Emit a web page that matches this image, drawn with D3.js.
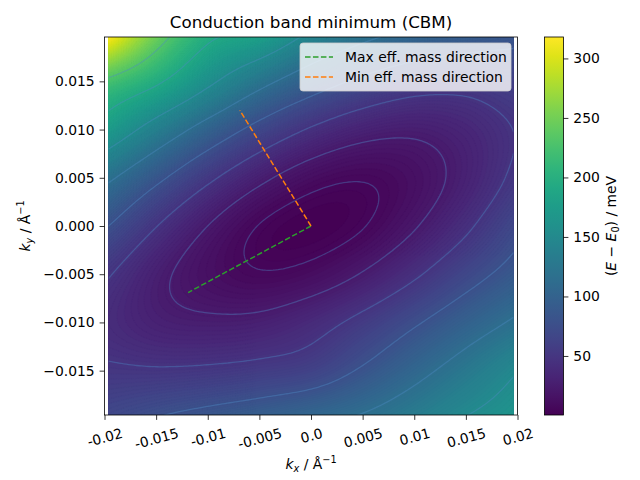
<!DOCTYPE html>
<html>
<head>
<meta charset="utf-8">
<script src="https://cdn.jsdelivr.net/npm/d3@7"></script>
<style>
  body { margin: 0; background: #fff; }
  svg { display: block; font-family: "DejaVu Sans", sans-serif; }
</style>
</head>
<body>
<svg id="chart" width="640" height="480"></svg>
<script>
// ---------------- data ----------------
const kxGrid = [-0.0196, -0.0147, -0.0098, -0.0049, 0, 0.0049, 0.0098, 0.0147, 0.0196];
const kyGrid = [0.0196, 0.0147, 0.0098, 0.0049, 0, -0.0049, -0.0098, -0.0147, -0.0196]; // rows, top to bottom
// E - E0 in meV at (kxGrid[col], kyGrid[row])
const energyGrid = [
  [318, 244, 196, 179, 145, 121, 104, 93, 85],
  [221, 191, 154, 120, 92, 71, 58, 55, 61],
  [172, 133, 97.5, 67, 44, 30, 26, 33, 48],
  [118, 83, 51.5, 27, 11.6, 6.8, 13.3, 29, 52],
  [79, 47, 21.9, 5.3, 0.4, 5.1, 20.4, 42.3, 69],
  [50, 27.3, 13.3, 6.8, 10.6, 23.3, 42.9, 66, 88],
  [40, 28.9, 25.6, 27.3, 37.1, 53.4, 73.6, 95, 116],
  [50, 48.5, 50, 54, 60.8, 80, 102, 124.6, 147.5],
  [68.5, 78, 86, 94, 104, 115, 131.7, 150, 164]
];
const lineLevels = [6, 22.8, 48, 79, 114, 151.7, 191.2, 232];
const colorRange = [0.4, 318];
const colorbarTicks = [50, 100, 150, 200, 250, 300];
const xTickValues = [-0.02, -0.015, -0.01, -0.005, 0, 0.005, 0.01, 0.015, 0.02];
const xTickLabels = ["-0.02", "-0.015", "-0.01", "-0.005", "0.0", "0.005", "0.01", "0.015", "0.02"];
const yTickValues = [-0.015, -0.01, -0.005, 0, 0.005, 0.01, 0.015];
const maxMassDir = [[0, 0], [-0.0119, -0.0069]];
const minMassDir = [[0, 0], [-0.0069, 0.0120]];
const legendItems = [
  {label: "Max eff. mass direction", color: "#2ca02c"},
  {label: "Min eff. mass direction", color: "#ff7f0e"}
];

// ---------------- layout ----------------
const svg = d3.select("#chart");
const pL = 104.5, pR = 517.5, pT = 37, pB = 415;
const x = d3.scaleLinear().domain([-0.02, 0.02]).range([pL, pR]);
const y = d3.scaleLinear().domain([-0.0196, 0.0196]).range([pB, pT]);
const color = d3.scaleSequential(d3.interpolateViridis).domain(colorRange);

// smooth resampling of the grid for display (Catmull-Rom)
const nR = kyGrid.length, nC = kxGrid.length;
function gv(r, c) {
  if (c < 0) return 2 * gv(r, 0) - gv(r, 1);
  if (c > nC - 1) return 2 * gv(r, nC - 1) - gv(r, nC - 2);
  if (r < 0) return 2 * gv(0, c) - gv(1, c);
  if (r > nR - 1) return 2 * gv(nR - 1, c) - gv(nR - 2, c);
  return energyGrid[r][c];
}
function cr(p0, p1, p2, p3, t) {
  return 0.5 * (2 * p1 + (-p0 + p2) * t + (2 * p0 - 5 * p1 + 4 * p2 - p3) * t * t + (-p0 + 3 * p1 - 3 * p2 + p3) * t * t * t);
}
function sample(gr, gc) {
  const r = Math.min(Math.floor(gr), nR - 2), c = Math.min(Math.floor(gc), nC - 2);
  const tr = gr - r, tc = gc - c;
  const rows = [];
  for (let dr = -1; dr <= 2; dr++) {
    rows.push(cr(gv(r + dr, c - 1), gv(r + dr, c), gv(r + dr, c + 1), gv(r + dr, c + 2), tc));
  }
  return cr(rows[0], rows[1], rows[2], rows[3], tr);
}
const N = 161;
const fine = new Array(N * N);
for (let j = 0; j < N; j++) {
  for (let i = 0; i < N; i++) {
    fine[j * N + i] = sample(j * (nR - 1) / (N - 1), i * (nC - 1) / (N - 1));
  }
}
const kx0 = kxGrid[0], kx1 = kxGrid[nC - 1], ky0 = kyGrid[0], ky1 = kyGrid[nR - 1];
const dkx = (kx1 - kx0) / (N - 1), dky = (ky1 - ky0) / (N - 1);
const proj = d3.geoTransform({
  point: function (cx, cy) {
    this.stream.point(x(kx0 + (cx - 0.5) * dkx), y(ky0 + (cy - 0.5) * dky));
  }
});
const path = d3.geoPath(proj);

const defs = svg.append("defs");
defs.append("clipPath").attr("id", "dataclip")
  .append("rect")
  .attr("x", x(kx0)).attr("y", y(ky0))
  .attr("width", x(kx1) - x(kx0)).attr("height", y(ky1) - y(ky0));

// filled contours
const step = 2;
const fillThresholds = d3.range(0, colorRange[1], step);
const fills = d3.contours().size([N, N]).thresholds(fillThresholds)(fine);
const bandColor = d => color(Math.min(Math.max(d.value + step / 2, colorRange[0]), colorRange[1]));
svg.append("g").attr("clip-path", "url(#dataclip)")
  .selectAll("path").data(fills).join("path")
  .attr("d", path)
  .attr("fill", bandColor)
  .attr("stroke", bandColor)
  .attr("stroke-width", 0.3);

// contour lines
const lines = d3.contours().size([N, N]).thresholds(lineLevels)(fine);
svg.append("g").attr("clip-path", "url(#dataclip)")
  .selectAll("path").data(lines).join("path")
  .attr("d", path)
  .attr("fill", "none")
  .attr("stroke", "#4f8cc6")
  .attr("stroke-opacity", 0.38)
  .attr("stroke-width", 1.3);

// direction lines
const lineGen = d3.line().x(d => x(d[0])).y(d => y(d[1]));
[maxMassDir, minMassDir].forEach((dir, i) => {
  svg.append("path").datum(dir).attr("d", lineGen)
    .attr("fill", "none").attr("stroke", legendItems[i].color)
    .attr("stroke-width", 1.5).attr("stroke-dasharray", "5.55,2.4");
});

// frame
svg.append("rect").attr("x", pL).attr("y", pT)
  .attr("width", pR - pL).attr("height", pB - pT)
  .attr("fill", "none").attr("stroke", "#000").attr("stroke-width", 0.8);

const fs = 13.9;
// x axis
const xAxis = svg.append("g").attr("transform", `translate(0,${pB})`)
  .call(d3.axisBottom(x).tickValues(xTickValues).tickSize(4.9).tickPadding(4.9)
    .tickFormat((d, i) => xTickLabels[i]));
xAxis.select(".domain").remove();
xAxis.selectAll(".tick line").attr("stroke-width", 0.8);
xAxis.selectAll(".tick text").each(function () {
  const t = d3.select(this);
  t.attr("font-size", fs).attr("font-family", "DejaVu Sans").attr("fill", "#000");
  const w = this.getComputedTextLength();
  const h = fs * 1.17;
  const a = 15 * Math.PI / 180;
  const bh = w * Math.sin(a) + h * Math.cos(a);
  const cy = 4.9 + 4.9 + bh / 2;
  t.attr("y", null).attr("dy", null)
    .attr("dominant-baseline", "central")
    .attr("text-anchor", "middle")
    .attr("transform", `translate(0,${cy}) rotate(-15)`);
});

// y axis
const yAxis = svg.append("g").attr("transform", `translate(${pL},0)`)
  .call(d3.axisLeft(y).tickValues(yTickValues).tickSize(4.9).tickPadding(4.9)
    .tickFormat(d3.format(".3f")));
yAxis.select(".domain").remove();
yAxis.selectAll(".tick line").attr("stroke-width", 0.8);
yAxis.selectAll(".tick text").attr("font-size", fs).attr("font-family", "DejaVu Sans").attr("fill", "#000");

// axis labels
const xl = svg.append("text").attr("x", (pL + pR) / 2).attr("y", 469)
  .attr("text-anchor", "middle").attr("font-size", fs);
xl.append("tspan").attr("font-style", "italic").text("k");
xl.append("tspan").attr("font-style", "italic").attr("font-size", fs * 0.7).attr("dy", 3).text("x");
xl.append("tspan").attr("dy", -3).text(" / Å");
xl.append("tspan").attr("font-size", fs * 0.7).attr("dy", -6).text("−1");

const yl = svg.append("text").attr("transform", `translate(30,${(pT + pB) / 2}) rotate(-90)`)
  .attr("text-anchor", "middle").attr("font-size", fs);
yl.append("tspan").attr("font-style", "italic").text("k");
yl.append("tspan").attr("font-style", "italic").attr("font-size", fs * 0.7).attr("dy", 3).text("y");
yl.append("tspan").attr("dy", -3).text(" / Å");
yl.append("tspan").attr("font-size", fs * 0.7).attr("dy", -6).text("−1");

// title
svg.append("text").attr("x", (pL + pR) / 2).attr("y", 28)
  .attr("text-anchor", "middle").attr("font-size", 16.7)
  .text("Conduction band minimum (CBM)");

// legend
const lg = svg.append("g");
lg.append("rect").attr("x", 300).attr("y", 43).attr("width", 211).attr("height", 48)
  .attr("rx", 3).attr("fill", "#fff").attr("fill-opacity", 0.8)
  .attr("stroke", "#ccc").attr("stroke-width", 0.8);
legendItems.forEach((it, i) => {
  const yy = 57 + i * 20;
  lg.append("line").attr("x1", 305).attr("x2", 333).attr("y1", yy).attr("y2", yy)
    .attr("stroke", it.color).attr("stroke-width", 1.5).attr("stroke-dasharray", "5.55,2.4");
  lg.append("text").attr("x", 345).attr("y", yy + 5).attr("font-size", fs).text(it.label);
});

// colorbar
const cbX = 544.5, cbW = 19;
const cbScale = d3.scaleLinear().domain(colorRange).range([pB, pT]);
const grad = defs.append("linearGradient").attr("id", "cbgrad")
  .attr("x1", 0).attr("y1", 1).attr("x2", 0).attr("y2", 0);
d3.range(0, 1.0001, 0.05).forEach(t => {
  grad.append("stop").attr("offset", t).attr("stop-color", d3.interpolateViridis(t));
});
svg.append("rect").attr("x", cbX).attr("y", pT).attr("width", cbW).attr("height", pB - pT)
  .attr("fill", "url(#cbgrad)").attr("stroke", "#000").attr("stroke-width", 0.8);
const cbAxis = svg.append("g").attr("transform", `translate(${cbX + cbW},0)`)
  .call(d3.axisRight(cbScale).tickValues(colorbarTicks).tickSize(4.9).tickPadding(4.9));
cbAxis.select(".domain").remove();
cbAxis.selectAll(".tick line").attr("stroke-width", 0.8);
cbAxis.selectAll(".tick text").attr("font-size", fs).attr("font-family", "DejaVu Sans").attr("fill", "#000");

const cl = svg.append("text").attr("transform", `translate(616,${(pT + pB) / 2}) rotate(-90)`)
  .attr("text-anchor", "middle").attr("font-size", fs);
cl.append("tspan").text("(");
cl.append("tspan").attr("font-style", "italic").text("E");
cl.append("tspan").text(" − ");
cl.append("tspan").attr("font-style", "italic").text("E");
cl.append("tspan").attr("font-size", fs * 0.7).attr("dy", 3).text("0");
cl.append("tspan").attr("dy", -3).text(") / meV");
</script>
</body>
</html>
